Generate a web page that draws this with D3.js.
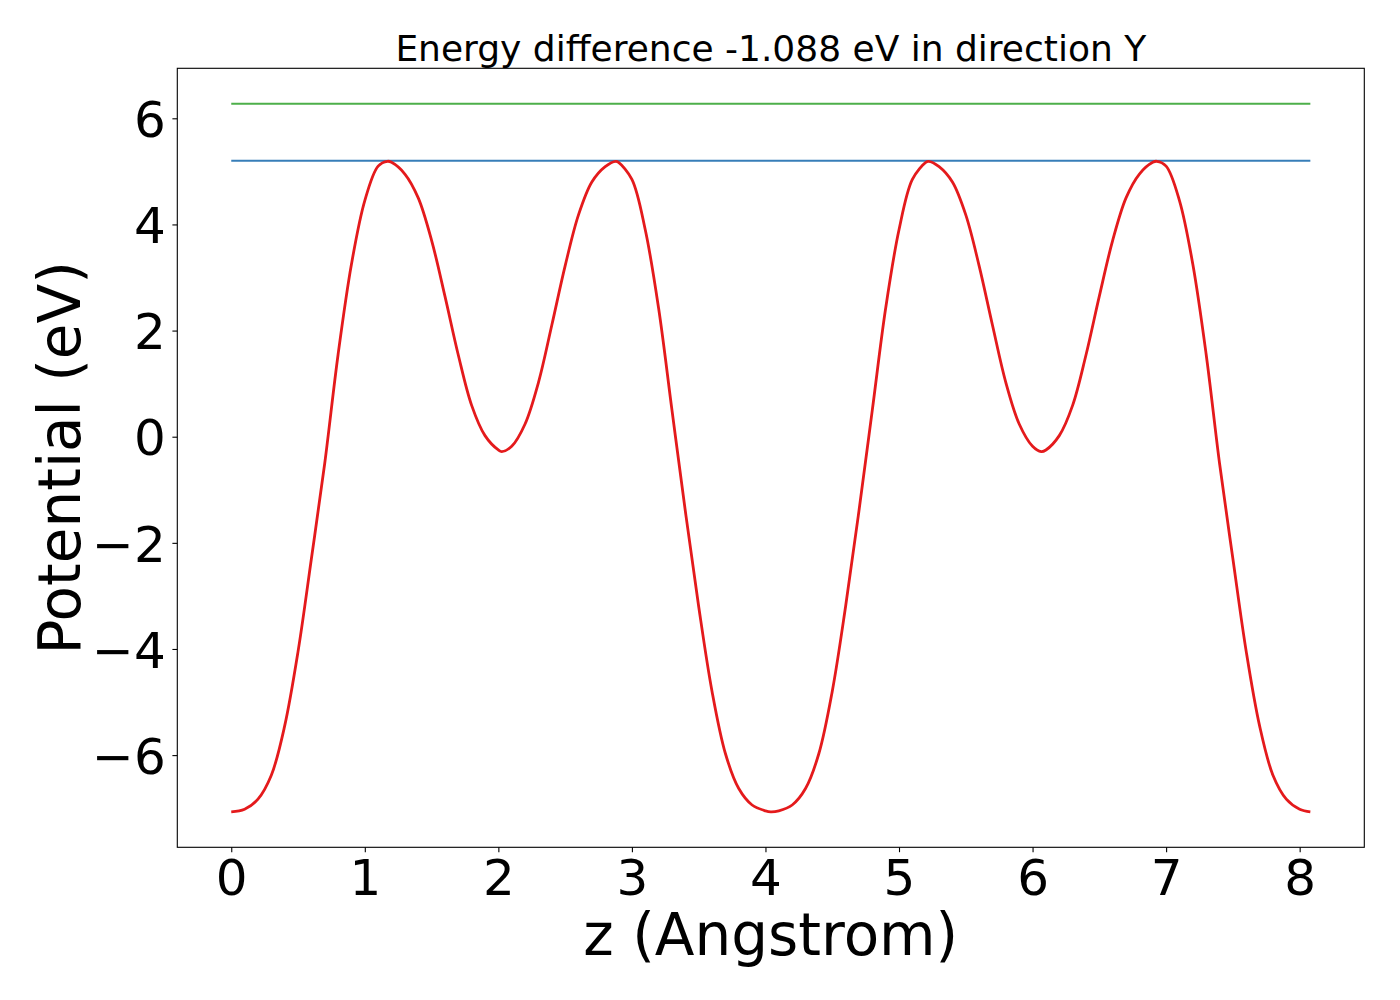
<!DOCTYPE html>
<html>
<head>
<meta charset="utf-8">
<script src="https://cdn.jsdelivr.net/npm/d3@7"></script>
<style>
    body { margin: 0; background: #fff; }
    text { font-family: "DejaVu Sans", sans-serif; }
</style>
</head>
<body>
<div id="chart"></div>
<script>
// z positions (Angstrom) and potential (eV)
var zGrid = [0.0, 0.1, 0.2, 0.3, 0.4, 0.5, 0.6, 0.7, 0.8, 0.9,
    1.0, 1.1, 1.17, 1.2, 1.3, 1.4, 1.5, 1.6, 1.7, 1.8, 1.9,
    2.0, 2.025, 2.1, 2.2, 2.3, 2.4, 2.5, 2.6, 2.7, 2.8, 2.88, 2.9,
    3.0, 3.1, 3.2, 3.3, 3.4, 3.5, 3.6, 3.7, 3.8, 3.9,
    4.0, 4.04, 4.1, 4.2, 4.3, 4.4, 4.5, 4.6, 4.7, 4.8, 4.9,
    5.0, 5.1, 5.2, 5.22, 5.3, 5.4, 5.5, 5.6, 5.7, 5.8, 5.9,
    6.0, 6.065, 6.1, 6.2, 6.3, 6.4, 6.5, 6.6, 6.7, 6.8, 6.9, 6.93,
    7.0, 7.1, 7.2, 7.3, 7.4, 7.5, 7.6, 7.7, 7.8, 7.9,
    8.0, 8.08];
var potential = [-7.07, -7.02, -6.83, -6.38, -5.45, -4.05, -2.30, -0.50, 1.55, 3.25,
    4.45, 5.10, 5.19, 5.17, 4.95, 4.50, 3.70, 2.65, 1.54, 0.59, 0.02,
    -0.25, -0.28, -0.18, 0.24, 1.02, 2.10, 3.22, 4.18, 4.80, 5.09, 5.19, 5.17,
    4.85, 3.90, 2.42, 0.50, -1.40, -3.20, -4.80, -5.97, -6.63, -6.94,
    -7.05, -7.07, -7.05, -6.94, -6.63, -5.97, -4.80, -3.20, -1.40, 0.50, 2.42,
    3.90, 4.85, 5.17, 5.19, 5.09, 4.80, 4.18, 3.22, 2.10, 1.02, 0.24,
    -0.18, -0.28, -0.25, 0.02, 0.59, 1.54, 2.65, 3.70, 4.50, 4.95, 5.17, 5.19,
    5.10, 4.45, 3.25, 1.55, -0.50, -2.30, -4.05, -5.45, -6.38, -6.83,
    -7.02, -7.07];
var upperLevel = 6.275;   // green line
var barrierLevel = 5.20;  // blue line
var xTicks = [0, 1, 2, 3, 4, 5, 6, 7, 8];
var yTicks = [-6, -4, -2, 0, 2, 4, 6];
var titleText = "Energy difference -1.088 eV in direction Y";
var xLabel = "z (Angstrom)";
var yLabel = "Potential (eV)";

var width = 1400, height = 1000;
var margin = {top: 68.3, right: 35.7, bottom: 152.7, left: 177.3};
var iw = width - margin.left - margin.right;
var ih = height - margin.top - margin.bottom;

var svg = d3.select("#chart").append("svg")
    .attr("width", width)
    .attr("height", height);
var g = svg.append("g")
    .attr("transform", "translate(" + margin.left + "," + margin.top + ")");

// matplotlib style 5% margins
var xMin = d3.min(zGrid), xMax = d3.max(zGrid);
var yMin = d3.min(potential), yMax = Math.max(d3.max(potential), upperLevel);
var xPad = (xMax - xMin) * 0.05, yPad = (yMax - yMin) * 0.05;

var x = d3.scaleLinear().domain([xMin - xPad, xMax + xPad]).range([0, iw]);
var y = d3.scaleLinear().domain([yMin - yPad, yMax + yPad]).range([ih, 0]);

var pts = zGrid.map(function(z, i){ return [z, potential[i]]; });

var line = d3.line()
    .x(function(d){ return x(d[0]); })
    .y(function(d){ return y(d[1]); })
    .curve(d3.curveCatmullRom.alpha(0.5));

g.append("line")
    .attr("x1", x(xMin)).attr("x2", x(xMax))
    .attr("y1", y(upperLevel)).attr("y2", y(upperLevel))
    .attr("stroke", "#4daf4a")
    .attr("stroke-width", 2.1);

g.append("line")
    .attr("x1", x(xMin)).attr("x2", x(xMax))
    .attr("y1", y(barrierLevel)).attr("y2", y(barrierLevel))
    .attr("stroke", "#377eb8")
    .attr("stroke-width", 2.1);

g.append("path")
    .datum(pts)
    .attr("fill", "none")
    .attr("stroke", "#e41a1c")
    .attr("stroke-width", 2.8)
    .attr("stroke-linejoin", "round")
    .attr("d", line);

// axes
var xAxis = g.append("g")
    .attr("transform", "translate(0," + ih + ")")
    .call(d3.axisBottom(x).tickValues(xTicks).tickFormat(d3.format("d"))
        .tickSize(4.9).tickPadding(7).tickSizeOuter(0));
var yAxis = g.append("g")
    .call(d3.axisLeft(y).tickValues(yTicks).tickFormat(d3.format("d"))
        .tickSize(4.9).tickPadding(6.7).tickSizeOuter(0));

[xAxis, yAxis].forEach(function(ax){
    ax.select(".domain").remove();
    ax.selectAll(".tick line").attr("stroke", "#000").attr("stroke-width", 1.1);
    ax.selectAll(".tick text")
        .attr("fill", "#000")
        .style("font-size", "50px")
        .style("font-family", "'DejaVu Sans', sans-serif");
});
yAxis.selectAll(".tick text").attr("dy", "0.364em");

// frame
g.append("rect")
    .attr("x", 0).attr("y", 0)
    .attr("width", iw).attr("height", ih)
    .attr("fill", "none")
    .attr("stroke", "#000")
    .attr("stroke-width", 1.1);

svg.append("text")
    .attr("x", margin.left + iw / 2)
    .attr("y", 60.7)
    .attr("text-anchor", "middle")
    .style("font-size", "36px")
    .text(titleText);

svg.append("text")
    .attr("x", margin.left + iw / 2)
    .attr("y", 955)
    .attr("text-anchor", "middle")
    .style("font-size", "58px")
    .text(xLabel);

svg.append("text")
    .attr("transform", "translate(80," + (margin.top + ih / 2) + ") rotate(-90)")
    .attr("text-anchor", "middle")
    .style("font-size", "58px")
    .text(yLabel);
</script>
</body>
</html>
